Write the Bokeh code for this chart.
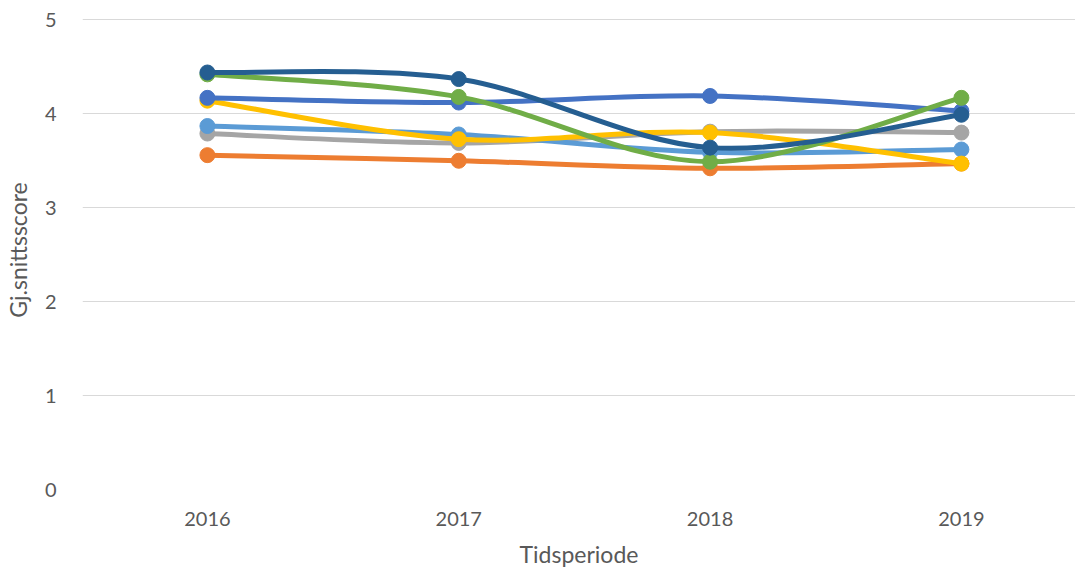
from bokeh.plotting import figure
from bokeh.models import Range1d, FixedTicker
from bokeh.embed import file_html
from bokeh.resources import INLINE

years = ["2016", "2017", "2018", "2019"]
y_ticks = [0, 1, 2, 3, 4, 5]

# series values (drawing order: first drawn underneath)
s_orange = [3.56, 3.50, 3.42, 3.47]
s_gray = [3.79, 3.69, 3.81, 3.80]
s_lightblue = [3.87, 3.78, 3.59, 3.62]
s_yellow = [4.14, 3.73, 3.80, 3.47]
s_blue = [4.17, 4.12, 4.19, 4.03]
s_green = [4.42, 4.18, 3.49, 4.17]
s_darkblue = [4.44, 4.37, 3.64, 3.99]

series = [
    (s_orange, "#ED7D31"),
    (s_gray, "#A5A5A5"),
    (s_lightblue, "#5B9BD5"),
    (s_yellow, "#FFC000"),
    (s_blue, "#4472C4"),
    (s_green, "#70AD47"),
    (s_darkblue, "#255E91"),
]

FONT = "Lato"
TXT = "#595959"

p = figure(frame_width=993, frame_height=479, output_backend="svg", toolbar_location=None,
           x_range=Range1d(-0.497, 3.454), y_range=Range1d(0, 5.1),
           min_border_left=70, min_border_top=10, min_border_right=0, min_border_bottom=0)
p.outline_line_color = None
p.background_fill_color = "white"

xs = list(range(len(years)))


def smooth_segments(x, y):
    n = len(x)
    segs = {k: [] for k in ["x0", "y0", "x1", "y1", "cx0", "cy0", "cx1", "cy1"]}
    for i in range(n - 1):
        xm = x[i - 1] if i > 0 else x[i]
        ym = y[i - 1] if i > 0 else y[i]
        xp = x[i + 2] if i + 2 < n else x[i + 1]
        yp = y[i + 2] if i + 2 < n else y[i + 1]
        segs["x0"].append(x[i]); segs["y0"].append(y[i])
        segs["x1"].append(x[i + 1]); segs["y1"].append(y[i + 1])
        segs["cx0"].append(x[i] + (x[i + 1] - xm) / 6.0)
        segs["cy0"].append(y[i] + (y[i + 1] - ym) / 6.0)
        segs["cx1"].append(x[i + 1] - (xp - x[i]) / 6.0)
        segs["cy1"].append(y[i + 1] - (yp - y[i]) / 6.0)
    return segs


for vals, col in series:
    s = smooth_segments(xs, vals)
    p.bezier(x0=s["x0"], y0=s["y0"], x1=s["x1"], y1=s["y1"],
             cx0=s["cx0"], cy0=s["cy0"], cx1=s["cx1"], cy1=s["cy1"],
             line_color=col, line_width=5, line_cap="round")
    p.scatter(xs, vals, size=15, marker="circle", fill_color=col, line_color=col)

p.xaxis.ticker = FixedTicker(ticks=xs)
p.xaxis.major_label_overrides = {i: y for i, y in enumerate(years)}
p.yaxis.ticker = FixedTicker(ticks=y_ticks)

p.xgrid.grid_line_color = None
p.ygrid.grid_line_color = "#D9D9D9"
p.ygrid.grid_line_width = 1.2

for ax in [p.xaxis[0], p.yaxis[0]]:
    ax.axis_line_color = None
    ax.major_tick_line_color = None
    ax.minor_tick_line_color = None
    ax.major_label_text_font = FONT
    ax.major_label_text_font_size = "20px"
    ax.major_label_text_color = TXT
    ax.axis_label_text_font = FONT
    ax.axis_label_text_font_size = "23px"
    ax.axis_label_text_color = TXT
    ax.axis_label_text_font_style = "normal"

p.xaxis.axis_label = "Tidsperiode"
p.yaxis.axis_label = "Gj.snittsscore"
p.xaxis.major_label_standoff = 16
p.xaxis.axis_label_standoff = 11
p.yaxis.major_label_standoff = 20
p.yaxis.axis_label_standoff = 10

open("out.html", "w").write(file_html(p, INLINE))
